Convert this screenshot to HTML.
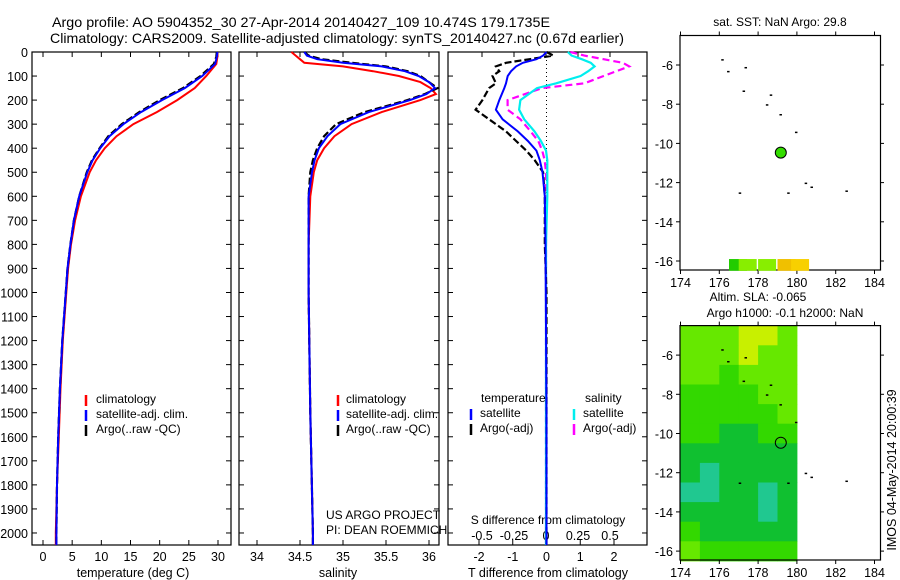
<!DOCTYPE html>
<html><head><meta charset="utf-8"><style>
body{margin:0;background:#fff}
svg{display:block;font-family:"Liberation Sans",sans-serif}
</style></head><body>
<svg id="fig" width="900" height="580" viewBox="0 0 900 580" xmlns="http://www.w3.org/2000/svg">
<text x="52" y="27" font-size="14" textLength="498" lengthAdjust="spacingAndGlyphs">Argo profile: AO 5904352_30 27-Apr-2014 20140427_109 10.474S 179.1735E</text>
<text x="50" y="43" font-size="14" textLength="574" lengthAdjust="spacingAndGlyphs">Climatology: CARS2009. Satellite-adjusted climatology: synTS_20140427.nc (0.67d earlier)</text>
<g id="g"></g>
</svg>
<script>
// ---- data ----
const tDepth=[0,20,50,100,150,200,250,300,350,400,450,500,600,700,800,900,1000,1200,1400,1600,1800,2000,2050];
const tArgo=[29.8,29.7,29.3,27,24,20,16.5,13.5,11.2,9.7,8.4,7.5,6.2,5.3,4.7,4.2,3.9,3.3,2.9,2.6,2.4,2.3,2.3];
const tSat=[29.9,29.8,29.5,27.3,24.3,20.4,16.8,13.8,11.4,9.8,8.5,7.6,6.2,5.3,4.7,4.2,3.9,3.3,2.9,2.6,2.4,2.3,2.3];
const tClim=[29.9,29.9,29.7,28,26,23,19.5,15.5,12.6,10.6,9.1,8.0,6.5,5.5,4.8,4.3,4.0,3.4,3.0,2.7,2.4,2.2,2.2];
const sDepth=[0,15,30,45,60,80,100,125,150,175,200,250,300,350,400,450,500,600,800,1000,1500,2000,2050];
const sArgo=[34.55,34.6,34.75,35.1,35.5,35.75,35.9,36.0,36.1,35.95,35.75,35.25,34.92,34.78,34.7,34.65,34.62,34.6,34.6,34.6,34.62,34.65,34.65];
const sSat=[34.55,34.58,34.7,35.0,35.45,35.72,35.88,36.0,36.07,35.97,35.78,35.3,34.97,34.82,34.72,34.67,34.64,34.6,34.6,34.6,34.62,34.65,34.65];
const sClim=[34.4,34.45,34.5,34.55,35.0,35.35,35.65,35.9,36.02,36.08,35.9,35.45,35.1,34.9,34.78,34.7,34.66,34.62,34.6,34.6,34.62,34.65,34.65];
const dDepth=[0,15,30,45,60,80,100,130,150,200,240,280,330,370,410,450,500,600,800,1000,1500,2050];
const dTSat=[0,-0.1,-0.3,-0.7,-0.9,-1.05,-1.15,-1.2,-1.25,-1.4,-1.5,-1.3,-0.85,-0.55,-0.3,-0.2,-0.12,-0.05,-0.03,-0.02,0,0];
const dTArgo=[0,0.2,-0.5,-1.2,-1.5,-1.4,-1.6,-1.5,-1.7,-1.9,-2.1,-1.7,-1.2,-0.9,-0.6,-0.35,-0.1,-0.05,-0.05,0,0,0];
const dSSat=[0.17,0.2,0.28,0.35,0.38,0.33,0.27,0.08,-0.07,-0.2,-0.21,-0.17,-0.09,-0.04,0,0.01,0.01,0.01,0,0,0,0];
const dSArgo=[0.19,0.3,0.45,0.6,0.65,0.55,0.45,0.3,-0.03,-0.3,-0.3,-0.2,-0.12,-0.06,-0.03,-0.01,0,0,0,0,0,0];
const depthTicks=[0,100,200,300,400,500,600,700,800,900,1000,1100,1200,1300,1400,1500,1600,1700,1800,1900,2000];
const tempTicks=[0,5,10,15,20,25,30];
const salTicks=[34,34.5,35,35.5,36];
const salTickLabels=["34","34.5","35","35.5","36"];
const dTTicks=[-2,-1,0,1,2];
const dSTicks=[-0.5,-0.25,0,0.25,0.5];
const dSTickLabels=["-0.5","-0.25","0","0.25","0.5"];
const lonTicks=[174,176,178,180,182,184];
const latTicks=[-6,-8,-10,-12,-14,-16];
const slaGrid=[[3,3,3,4,4,3],[3,3,3,4,3,3],[3,3,2,3,3,3],[2,2,2,2,3,3],[2,2,2,2,2,3],[2,2,1,1,2,2],[1,1,1,1,1,1],[1,0,1,1,1,1],[0,0,1,1,0,1],[1,1,1,1,0,1],[2,1,1,1,1,1],[3,2,2,2,2,2]];
const argoLon=179.17, argoLat=-10.47;

const NS="http://www.w3.org/2000/svg";
const G=document.getElementById('g');
function el(tag,attrs,parent){const e=document.createElementNS(NS,tag);for(const k in attrs)e.setAttribute(k,attrs[k]);(parent||G).appendChild(e);return e;}
const Y0=52,Y1=545,DMAX=2050;
const yD=d=>Y0+(Y1-Y0)*d/DMAX;
function lin(d0,d1,r0,r1){return v=>r0+(v-d0)*(r1-r0)/(d1-d0);}
function frame(x0,x1,name){
  const r=el('rect',{x:x0,y:Y0,width:x1-x0,height:Y1-Y0,fill:'none',stroke:'#000','stroke-width':1.2});
  
  
  depthTicks.forEach(d=>{el('line',{x1:x0,x2:x0+5,y1:yD(d),y2:yD(d),stroke:'#000'});el('line',{x1:x1,x2:x1-5,y1:yD(d),y2:yD(d),stroke:'#000'});});
}
function line(xs,ds,sx,color,w,dash,name){
  const p=xs.map((v,i)=>sx(v).toFixed(1)+','+yD(ds[i]).toFixed(1)).join(' ');
  const e=el('polyline',{points:p,fill:'none',stroke:color,'stroke-width':w});
  if(dash)e.setAttribute('stroke-dasharray',dash);
  
  
}
function txt(s,x,y,size,anchor,name){const t=el('text',{x:x,y:y,'font-size':size,'text-anchor':anchor||'start'});t.textContent=s;
  
  return t;}

// Panel 1 temperature
const xT=lin(0,30,43,218);
frame(32,231,'temperature-panel');
depthTicks.forEach(d=>txt(String(d),28,yD(d)+5,12.5,'end','depth-tick-label'));
tempTicks.forEach(v=>{el('line',{x1:xT(v),x2:xT(v),y1:Y1,y2:Y1-5,stroke:'#000'});el('line',{x1:xT(v),x2:xT(v),y1:Y0,y2:Y0+5,stroke:'#000'});txt(String(v),xT(v),561,12.5,'middle','temp-tick-label');});
txt('temperature (deg C)',133,577,12.5,'middle','temp-axis-title');
line(tClim,tDepth,xT,'#f00',2,null,'temp-climatology-line');
line(tArgo,tDepth,xT,'#000',2.2,'7,3','temp-argo-line');
line(tSat,tDepth,xT,'#00f',2,null,'temp-satellite-line');
[['climatology','#f00'],['satellite-adj. clim.','#00f'],['Argo(..raw -QC)','#000']].forEach((l,i)=>{const y=402+i*15;el('line',{x1:86,x2:86,y1:y-7,y2:y+4,stroke:l[1],'stroke-width':2.5});txt(l[0],96,y+1,12,'start','temp-legend-entry');});

// Panel 2 salinity
const xS=lin(34,36,257,429);
frame(239,439,'salinity-panel');
salTicks.forEach((v,i)=>{el('line',{x1:xS(v),x2:xS(v),y1:Y1,y2:Y1-5,stroke:'#000'});el('line',{x1:xS(v),x2:xS(v),y1:Y0,y2:Y0+5,stroke:'#000'});txt(salTickLabels[i],xS(v),561,12.5,'middle','sal-tick-label');});
txt('salinity',338,577,12.5,'middle','sal-axis-title');
line(sClim,sDepth,xS,'#f00',2,null,'sal-climatology-line');
line(sArgo,sDepth,xS,'#000',2.2,'7,3','sal-argo-line');
line(sSat,sDepth,xS,'#00f',2,null,'sal-satellite-line');
[['climatology','#f00'],['satellite-adj. clim.','#00f'],['Argo(..raw -QC)','#000']].forEach((l,i)=>{const y=402+i*15;el('line',{x1:338,x2:338,y1:y-7,y2:y+4,stroke:l[1],'stroke-width':2.5});txt(l[0],346,y+1,12,'start','sal-legend-entry');});
txt('US ARGO PROJECT',326,519,12,'start','project-label');
txt('PI: DEAN ROEMMICH',326,534,12,'start','pi-label');

// Panel 3 differences
const xDT=lin(-2,2,479,614), xDS=lin(-0.5,0.5,482,610);
frame(448,647,'difference-panel');
dTTicks.forEach(v=>{el('line',{x1:xDT(v),x2:xDT(v),y1:Y1,y2:Y1-5,stroke:'#000'});txt(String(v),xDT(v),561,12.5,'middle','dT-tick-label');});
dSTicks.forEach((v,i)=>{el('line',{x1:xDS(v),x2:xDS(v),y1:Y0,y2:Y0+5,stroke:'#000'});txt(dSTickLabels[i],xDS(v),540,12.5,'middle','dS-tick-label');});
txt('S difference from climatology',548,524,12,'middle','dS-axis-title');
txt('T difference from climatology',548,577,12.5,'middle','dT-axis-title');
el('line',{x1:xDT(0),x2:xDT(0),y1:Y0,y2:Y1,stroke:'#000','stroke-dasharray':'1,3'});
line(dSArgo,dDepth,xDS,'#f0f',2.2,'7,4','dS-argo-line');
line(dSSat,dDepth,xDS,'#0ee',2.2,null,'dS-satellite-line');
line(dTArgo,dDepth,xDT,'#000',2.2,'7,3','dT-argo-line');
line(dTSat,dDepth,xDT,'#00f',2,null,'dT-satellite-line');
txt('temperature',481,402,12,'start','legend-temperature-header');
txt('salinity',585,402,12,'start','legend-salinity-header');
[['satellite','#00f',471],['Argo(-adj)','#000',471],['satellite','#0ee',574],['Argo(-adj)','#f0f',574]].forEach((l,i)=>{const y=416+(i%2)*15;el('line',{x1:l[2],x2:l[2],y1:y-7,y2:y+4,stroke:l[1],'stroke-width':2.5});txt(l[0],l[2]+9,y+1,12,'start','diff-legend-entry');});

// Maps
function map(top,bottom,name){
  const xL=lin(174,184,680.5,874.5), yL=lin(-6,-16,top+29.5,top+225.5);
  return {xL,yL,draw(){
    const r=el('rect',{x:680,y:top,width:200.5,height:bottom-top,fill:'none',stroke:'#000','stroke-width':1.2});
    
    
    lonTicks.forEach(v=>{el('line',{x1:xL(v),x2:xL(v),y1:bottom,y2:bottom+4,stroke:'#000'});el('line',{x1:xL(v),x2:xL(v),y1:top,y2:top-4,stroke:'#000'});txt(String(v),xL(v),bottom+17,12.5,'middle','lon-tick-label');});
    latTicks.forEach(v=>{el('line',{x1:676,x2:680,y1:yL(v),y2:yL(v),stroke:'#000'});el('line',{x1:880.5,x2:884,y1:yL(v),y2:yL(v),stroke:'#000'});txt(String(v),673,yL(v)+5,12.5,'end','lat-tick-label');});
  }};
}
const islands=[[176.1,-5.7],[176.4,-6.3],[177.3,-6.1],[177.2,-7.3],[178.6,-7.5],[178.4,-8.0],[179.1,-8.5],[179.9,-9.4],[180.4,-12.0],[180.7,-12.2],[182.5,-12.4],[177.0,-12.5],[179.5,-12.5]];
const colors=['#20c890','#10c030','#33d800','#66e800','#c8f000'];
// SLA map (bottom)
const m2=map(325.6,560,'sla-map');
slaGrid.forEach((row,r)=>row.forEach((v,c)=>{
  const lat0=-4.5-r;const x=m2.xL(174+c), y=m2.yL(lat0);
  const rc=el('rect',{x:x,y:y,width:m2.xL(175)-m2.xL(174)+0.5,height:m2.yL(-5)-m2.yL(-4)+0.5,fill:colors[v]});
  
  
}));
m2.draw();
// SST map (top)
const m1=map(35.5,270,'sst-map');
m1.draw();
[[176.5,'#22cc00'],[177,'#88ee00'],[178,'#88ee00'],[179,'#f0c000'],[179.7,'#f8d000']].forEach(c=>{
  const rc=el('rect',{x:m1.xL(c[0]),y:m1.yL(-15.9),width:18,height:m1.yL(-16.5)-m1.yL(-15.9),fill:c[1]});
  
  
});
[m1,m2].forEach(m=>islands.forEach(p=>el('rect',{x:m.xL(p[0]),y:m.yL(p[1]),width:2.5,height:1.5,fill:'#000'})));
const d1=el('circle',{cx:m1.xL(argoLon),cy:m1.yL(argoLat),r:5.5,fill:'#33dd00',stroke:'#000'});


const d2=el('circle',{cx:m2.xL(argoLon),cy:m2.yL(argoLat),r:5.5,fill:'none',stroke:'#000'});


txt('sat. SST: NaN Argo: 29.8',780,26,12,'middle','sst-map-title');
txt('Altim. SLA: -0.065',758,301,12,'middle','sla-map-title-1');
txt('Argo h1000: -0.1 h2000: NaN',785,317,12,'middle','sla-map-title-2');
const st=txt('IMOS 04-May-2014 20:00:39',0,0,12.5,'middle','imos-timestamp');
st.setAttribute('transform','translate(896,470) rotate(-90)');
</script>
</body></html>
